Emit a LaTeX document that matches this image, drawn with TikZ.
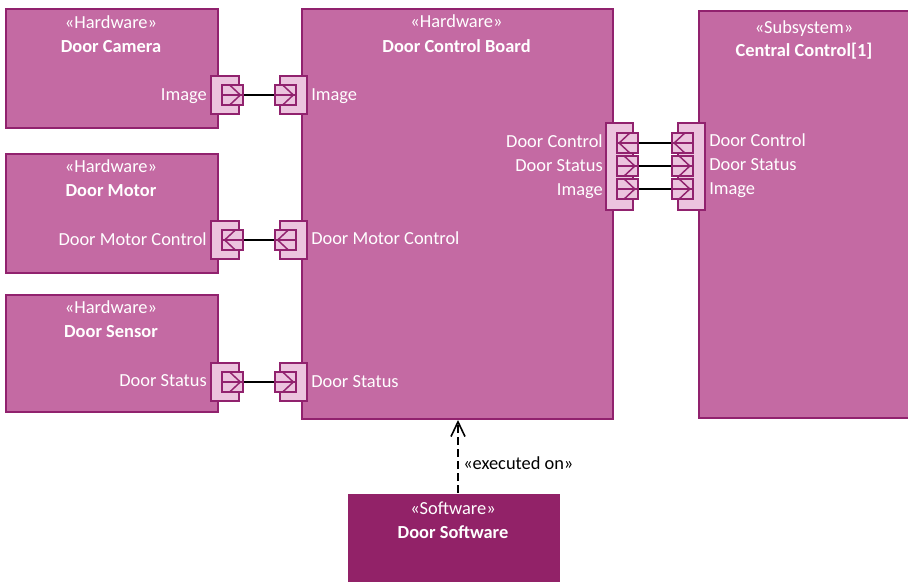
\documentclass[tikz,border=0pt]{standalone}
\usepackage{fontspec}
\setmainfont{Carlito}
\usetikzlibrary{arrows.meta}

\definecolor{hwfill}{RGB}{196,106,163}
\definecolor{hwline}{RGB}{145,34,110}
\definecolor{swfill}{RGB}{146,34,104}
\definecolor{portfill}{RGB}{236,196,222}

\tikzset{
  block/.style={draw=hwline, fill=hwfill, line width=1.5pt, anchor=north west,
    minimum width=159pt, inner sep=0pt},
  stereo/.style={text=white, inner sep=0pt, text height=8.9pt, text depth=0pt,
    font=\fontsize{13.8}{16}\selectfont},
  nametext/.style={stereo, font=\fontsize{13.8}{16}\selectfont\bfseries},
  lbl/.style={stereo},
  portbody/.style={draw=hwline, fill=portfill, line width=1.5pt,
    minimum width=20.5pt, inner sep=0pt},
  iface/.style={draw=hwline, fill=portfill, line width=1.5pt,
    minimum width=15.75pt, minimum height=15.5pt, inner sep=0pt},
  ifaceout/.style={iface, path picture={
    \draw[hwline, line width=1.1pt] (path picture bounding box.west) -- (path picture bounding box.east);
    \draw[hwline, line width=1.1pt] ([xshift=5.5pt]path picture bounding box.north west)
      -- ([xshift=-2pt]path picture bounding box.east)
      -- ([xshift=5.5pt]path picture bounding box.south west);}},
  ifacein/.style={iface, path picture={
    \draw[hwline, line width=1.1pt] (path picture bounding box.west) -- (path picture bounding box.east);
    \draw[hwline, line width=1.1pt] ([xshift=-5.5pt]path picture bounding box.north east)
      -- ([xshift=2pt]path picture bounding box.west)
      -- ([xshift=-5.5pt]path picture bounding box.south east);}},
  link/.style={line width=1.5pt},
  dep/.style={line width=1.2pt, dash pattern=on 6pt off 3pt,
    -{Straight Barb[length=11pt, width=10.5pt]}},
}

\begin{document}
\begin{tikzpicture}[x=0.75pt, y=-0.75pt]
  \useasboundingbox (0,0) rectangle (908,582);

  % blocks
  \node[block, minimum height=89.25pt] (camera) at (5,8) {};
  \node[block, minimum height=89.25pt] (motor) at (5,153) {};
  \node[block, minimum height=87.75pt] (sensor) at (5,294) {};
  \node[block, minimum width=233.25pt, minimum height=307.5pt] (board) at (301,8) {};
  \node[block, minimum height=305.25pt] (central) at (698,10) {};
  \node[block, fill=swfill, draw=none, minimum height=89.25pt] (sw) at (347,493) {};

  \node[stereo] (cameraS) at (111,22.5) {«Hardware»};
  \node[nametext] (cameraN) at (111,46.5) {Door Camera};
  \node[stereo] (motorS) at (111,166.5) {«Hardware»};
  \node[nametext] (motorN) at (111,191) {Door Motor};
  \node[stereo] (sensorS) at (111,307.5) {«Hardware»};
  \node[nametext] (sensorN) at (111,332) {Door Sensor};
  \node[stereo] (boardS) at (456.5,22) {«Hardware»};
  \node[nametext] (boardN) at (456.5,46.5) {Door Control Board};
  \node[stereo] (centralS) at (804,28) {«Subsystem»};
  \node[nametext] (centralN) at (804,50.5) {Central Control[1]};
  \node[stereo] (swS) at (453,508.5) {«Software»};
  \node[nametext] (swN) at (453,532.5) {Door Software};

  % ports on the left blocks
  \node[portbody, minimum height=28.5pt] (camPort) at (225,95) {};
  \node[ifaceout] (camIf) at (232.5,95) {};
  \node[portbody, minimum height=28.5pt] (bdCamPort) at (293.5,95) {};
  \node[ifaceout] (bdCamIf) at (285.5,95) {};

  \node[portbody, minimum height=28.5pt] (motPort) at (225,240) {};
  \node[ifacein] (motIf) at (232.5,240) {};
  \node[portbody, minimum height=28.5pt] (bdMotPort) at (293.5,240) {};
  \node[ifacein] (bdMotIf) at (285.5,240) {};

  \node[portbody, minimum height=28.5pt] (senPort) at (225,382) {};
  \node[ifaceout] (senIf) at (232.5,382) {};
  \node[portbody, minimum height=28.5pt] (bdSenPort) at (293.5,382) {};
  \node[ifaceout] (bdSenIf) at (285.5,382) {};

  % ports between board and central control
  \node[portbody, minimum height=65.25pt] (bdCtrlPort) at (619.5,166.5) {};
  \node[ifacein] (bdCtrlIf) at (627,143) {};
  \node[ifaceout] (bdStatIf) at (627,166) {};
  \node[ifaceout] (bdImgIf) at (627,189) {};
  \node[portbody, minimum height=65.25pt] (ccPort) at (691.5,166.5) {};
  \node[ifacein] (ccCtrlIf) at (682,143) {};
  \node[ifaceout] (ccStatIf) at (682,166) {};
  \node[ifaceout] (ccImgIf) at (682,189) {};

  \draw[link] (camIf) -- (bdCamIf);
  \draw[link] (motIf) -- (bdMotIf);
  \draw[link] (senIf) -- (bdSenIf);
  \draw[link] (bdCtrlIf) -- (ccCtrlIf);
  \draw[link] (bdStatIf) -- (ccStatIf);
  \draw[link] (bdImgIf) -- (ccImgIf);

  % port labels
  \node[lbl, anchor=east] (camL) at (207,95) {Image};
  \node[lbl, anchor=west] (bdCamL) at (311,95) {Image};
  \node[lbl, anchor=east] (motL) at (207,240) {Door Motor Control};
  \node[lbl, anchor=west] (bdMotL) at (311,239) {Door Motor Control};
  \node[lbl, anchor=east] (senL) at (207,381) {Door Status};
  \node[lbl, anchor=west] (bdSenL) at (311,382) {Door Status};
  \node[lbl, anchor=east] (bdCtrlL) at (603,142) {Door Control};
  \node[lbl, anchor=east] (bdStatL) at (603,166) {Door Status};
  \node[lbl, anchor=east] (bdImgL) at (603,190) {Image};
  \node[lbl, anchor=west] (ccCtrlL) at (709,141) {Door Control};
  \node[lbl, anchor=west] (ccStatL) at (709,165) {Door Status};
  \node[lbl, anchor=west] (ccImgL) at (709,189) {Image};

  % deployment
  \coordinate (execS) at (458,493);
  \draw[dep] (execS) -- (execS |- board.south);
  \node[stereo, text=black, anchor=west] (execL) at (463,464) {«executed on»};
\end{tikzpicture}
\end{document}
